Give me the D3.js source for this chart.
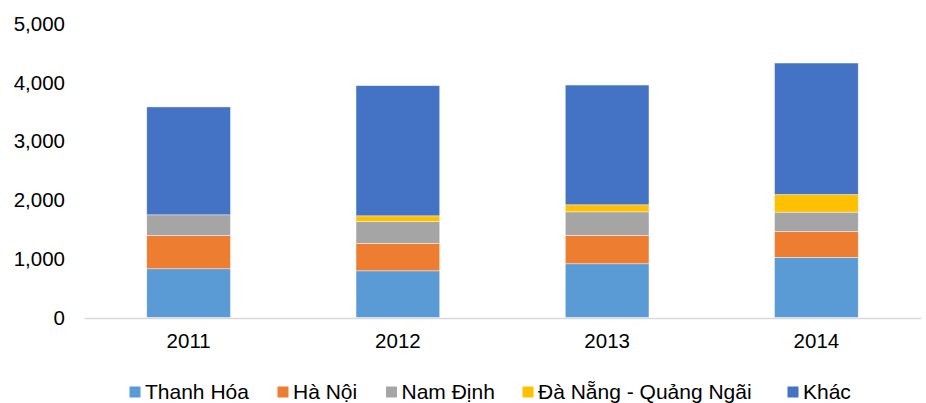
<!DOCTYPE html>
<html><head><meta charset="utf-8">
<script src="https://cdn.jsdelivr.net/npm/d3@7/dist/d3.min.js"></script>
<style>body{margin:0;background:#fff;}svg{display:block;font-family:"Liberation Sans",Arial,sans-serif;}</style>
</head><body><svg id="c" width="926" height="403"></svg>
<script>
const years = ["2011","2012","2013","2014"];
const seriesNames = ["Thanh Hóa","Hà Nội","Nam Định","Đà Nẵng - Quảng Ngãi","Khác"];
const thanhHoa = [830, 795, 915, 1025];
const haNoi = [567, 467, 485, 440];
const namDinh = [352, 373, 400, 330];
const daNang = [0, 97, 120, 300];
const khac = [1838, 2218, 2040, 2240];
const yTicks = [0,1000,2000,3000,4000,5000];
const colors = ["#5B9BD5","#ED7D31","#A5A5A5","#FFC000","#4472C4"];

const allSeries = [thanhHoa, haNoi, namDinh, daNang, khac];
const rows = years.map((y,i)=>{const r={year:y}; seriesNames.forEach((n,j)=>r[n]=allSeries[j][i]); return r;});
const stack = d3.stack().keys(seriesNames)(rows);

const svg = d3.select("#c");
const x = d3.scaleBand().domain(years).range([84,921]).paddingInner(0.6).paddingOuter(0.3);
const y = d3.scaleLinear().domain([0,5000]).range([317.5,24]);

svg.append("g").selectAll("g").data(stack).join("g")
  .attr("fill",(d,i)=>colors[i])
  .selectAll("rect").data(d=>d).join("rect")
  .attr("x",d=>x(d.data.year)).attr("width",x.bandwidth())
  .attr("y",d=>y(d[1])).attr("height",d=>Math.max(0,y(d[0])-y(d[1])))
  .attr("stroke","#fff").attr("stroke-width",0.6).attr("stroke-opacity",0.7);

// y axis labels
const ya = svg.append("g").attr("transform","translate(65,0)")
  .call(d3.axisLeft(y).tickValues(yTicks).tickFormat(d3.format(",")).tickSize(0).tickPadding(0));
ya.select(".domain").remove();
ya.selectAll("text").attr("font-size",20.5).attr("fill","#000").attr("font-family","Liberation Sans, Arial, sans-serif");

// x axis
const xa = svg.append("g").attr("transform","translate(0,318)")
  .call(d3.axisBottom(x).tickSize(0).tickPadding(15));
xa.select(".domain").attr("stroke","#d9d9d9").attr("stroke-width",1.5);
xa.selectAll("text").attr("font-size",20.5).attr("fill","#000").attr("font-family","Liberation Sans, Arial, sans-serif");

// legend
const legendX = [129.5, 277.5, 386, 522.5, 787.5];
const lg = svg.append("g");
seriesNames.forEach((n,i)=>{
  const g = lg.append("g").attr("transform",`translate(${legendX[i]},0)`);
  g.append("rect").attr("x",0).attr("y",386.5).attr("width",11).attr("height",11).attr("fill",colors[i]);
  g.append("text").attr("x",15.5).attr("y",399).attr("font-size",21).attr("fill","#000").text(n);
});
</script></body></html>
